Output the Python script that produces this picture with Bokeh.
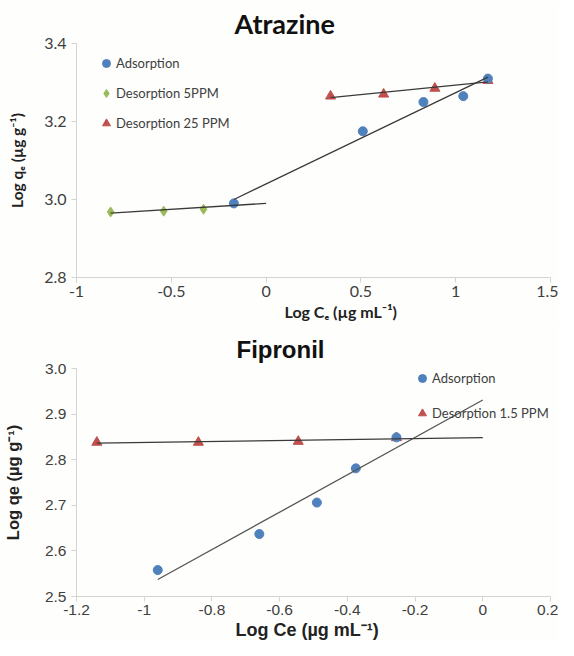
import numpy as np
from bokeh.plotting import figure
from bokeh.layouts import column
from bokeh.models import Range1d, FixedTicker, Legend, LegendItem, Title
from bokeh.embed import file_html
from bokeh.resources import INLINE

# ---------------- Data: Atrazine ----------------
atr_ads_x = [-0.17, 0.51, 0.83, 1.04, 1.17]
atr_ads_y = [2.990, 3.175, 3.250, 3.265, 3.310]
atr_d5_x = [-0.82, -0.54, -0.33]
atr_d5_y = [2.968, 2.970, 2.975]
atr_d25_x = [0.34, 0.62, 0.89, 1.17]
atr_d25_y = [3.265, 3.270, 3.285, 3.305]
atr_xticks = [-1, -0.5, 0, 0.5, 1, 1.5]
atr_xlabels = ["-1", "-0.5", "0", "0.5", "1", "1.5"]
atr_yticks = [2.8, 3.0, 3.2, 3.4]
atr_ylabels = ["2.8", "3.0", "3.2", "3.4"]

# ---------------- Data: Fipronil ----------------
fip_ads_x = [-0.96, -0.66, -0.49, -0.375, -0.255]
fip_ads_y = [2.558, 2.637, 2.706, 2.781, 2.849]
fip_des_x = [-1.14, -0.84, -0.545, -0.255]
fip_des_y = [2.838, 2.838, 2.840, 2.848]
fip_xticks = [-1.2, -1.0, -0.8, -0.6, -0.4, -0.2, 0, 0.2]
fip_xlabels = ["-1.2", "-1", "-0.8", "-0.6", "-0.4", "-0.2", "0", "0.2"]
fip_yticks = [2.5, 2.6, 2.7, 2.8, 2.9, 3.0]
fip_ylabels = ["2.5", "2.6", "2.7", "2.8", "2.9", "3.0"]

BLUE = "#4f81bd"
GREEN = "#9bbb59"
RED = "#c0504d"
LINE = "#3a3a3a"
FONT_A = "Lato"
FONT_B = "Liberation Sans"
BG = "#fefefc"


def fit(xs, ys, x0, x1):
    m, b = np.polyfit(np.asarray(xs, float), np.asarray(ys, float), 1)
    return [x0, x1], [m * x0 + b, m * x1 + b]


def style(p, font, tick_size, xticks, xlabels, yticks, ylabels,
          ylab, ylab_size, ylab_standoff, xtick_standoff):
    p.grid.visible = False
    p.outline_line_color = None
    p.background_fill_color = BG
    p.border_fill_color = BG
    p.xaxis.ticker = FixedTicker(ticks=xticks)
    p.yaxis.ticker = FixedTicker(ticks=yticks)
    p.xaxis.major_label_overrides = {t: l for t, l in zip(xticks, xlabels)}
    p.yaxis.major_label_overrides = {t: l for t, l in zip(yticks, ylabels)}
    for ax in (p.xaxis[0], p.yaxis[0]):
        ax.axis_line_color = "#d4d4d4"
        ax.major_tick_line_color = "#d4d4d4"
        ax.major_tick_out = 5
        ax.major_tick_in = 0
        ax.minor_tick_line_color = None
        ax.major_label_text_font = font
        ax.major_label_text_font_size = tick_size
        ax.major_label_text_color = "#404040"
        ax.axis_label_text_font = font
        ax.axis_label_text_font_style = "bold"
        ax.axis_label_text_color = "#222222"
    p.xaxis.major_label_standoff = xtick_standoff
    p.yaxis.major_label_standoff = 5
    p.yaxis.axis_label = ylab
    p.yaxis.axis_label_text_font_size = ylab_size
    p.yaxis.axis_label_standoff = ylab_standoff


def add_title(p, place, text, font, size, offset, standoff, color="#111111"):
    p.add_layout(Title(text=text, align="left", offset=offset, standoff=standoff,
                       text_font=font, text_font_size=size,
                       text_font_style="bold", text_color=color), place)


# ---------------- Atrazine figure ----------------
p1 = figure(width=558, height=322,
            x_range=Range1d(-1, 1.5), y_range=Range1d(2.8, 3.4),
            output_backend="svg", toolbar_location=None,
            min_border_left=74, min_border_right=8,
            min_border_top=42, min_border_bottom=45)
style(p1, FONT_A, "16px", atr_xticks, atr_xlabels, atr_yticks, atr_ylabels,
      "Log q\u2091 (\u00b5g g\u207b\u00b9)", "15.5px", 15, 3)
add_title(p1, "above", "Atrazine", FONT_A, "27px", 158, 8)
add_title(p1, "below", "Log C\u2091 (\u00b5g mL\u207b\u00b9)", FONT_A, "16px", 208, 0, "#222222")

r_d25 = p1.scatter(atr_d25_x, atr_d25_y, marker="triangle", size=10,
                   fill_color=RED, line_color=RED)
r_ads = p1.scatter(atr_ads_x, atr_ads_y, marker="circle", size=9,
                   fill_color=BLUE, line_color=BLUE)
r_d5 = p1.scatter(atr_d5_x, atr_d5_y, marker="diamond", size=10,
                  fill_color=GREEN, line_color=GREEN)

fx, fy = fit(atr_d5_x + atr_ads_x[:1], atr_d5_y + atr_ads_y[:1], atr_d5_x[0], 0.0)
p1.line(fx, fy, line_color=LINE, line_width=1.3)
fx, fy = fit(atr_ads_x, atr_ads_y, atr_ads_x[0], atr_ads_x[-1])
p1.line(fx, fy, line_color=LINE, line_width=1.3)
fx, fy = fit(atr_d25_x, atr_d25_y, atr_d25_x[0], atr_d25_x[-1])
p1.line(fx, fy, line_color=LINE, line_width=1.3)

leg1 = Legend(items=[LegendItem(label="Adsorption", renderers=[r_ads]),
                     LegendItem(label="Desorption 5PPM", renderers=[r_d5]),
                     LegendItem(label="Desorption 25 PPM", renderers=[r_d25])],
              location=(20, 144), orientation="vertical",
              border_line_color=None, background_fill_alpha=0,
              padding=0, margin=0, spacing=10, label_height=20,
              glyph_width=20, glyph_height=20, label_standoff=0,
              label_text_font=FONT_A, label_text_font_size="13px",
              label_text_color="#404040")
p1.add_layout(leg1)

# ---------------- Fipronil figure ----------------
p2 = figure(width=558, height=318,
            x_range=Range1d(-1.2, 0.2), y_range=Range1d(2.5, 3.0),
            output_backend="svg", toolbar_location=None,
            min_border_left=76, min_border_right=8,
            min_border_top=46, min_border_bottom=44)
style(p2, FONT_B, "15.5px", fip_xticks, fip_xlabels, fip_yticks, fip_ylabels,
      "Log qe (\u00b5g g\u207b\u00b9)", "16.5px", 20, 3)
add_title(p2, "above", "Fipronil", FONT_B, "24px", 160, 11)
add_title(p2, "below", "Log Ce (\u00b5g mL\u207b\u00b9)", FONT_B, "18px", 159, 0, "#222222")

r2_des = p2.scatter(fip_des_x, fip_des_y, marker="triangle", size=10,
                    fill_color=RED, line_color=RED)
r2_ads = p2.scatter(fip_ads_x, fip_ads_y, marker="circle", size=9,
                    fill_color=BLUE, line_color=BLUE)

fx, fy = fit(fip_ads_x, fip_ads_y, fip_ads_x[0], 0.0)
p2.line(fx, fy, line_color="#555555", line_width=1.3)
fx, fy = fit(fip_des_x, fip_des_y, fip_des_x[0], 0.0)
p2.line(fx, fy, line_color=LINE, line_width=1.3)

leg2 = Legend(items=[LegendItem(label="Adsorption", renderers=[r2_ads]),
                     LegendItem(label="Desorption 1.5 PPM", renderers=[r2_des])],
              location=(336, 173), orientation="vertical",
              border_line_color=None, background_fill_alpha=0,
              padding=0, margin=0, spacing=15, label_height=20,
              glyph_width=20, glyph_height=20, label_standoff=0,
              label_text_font=FONT_A, label_text_font_size="13px",
              label_text_color="#404040")
p2.add_layout(leg2)

layout = column(p1, p2, spacing=0)
open("out.html", "w").write(file_html(layout, INLINE))
